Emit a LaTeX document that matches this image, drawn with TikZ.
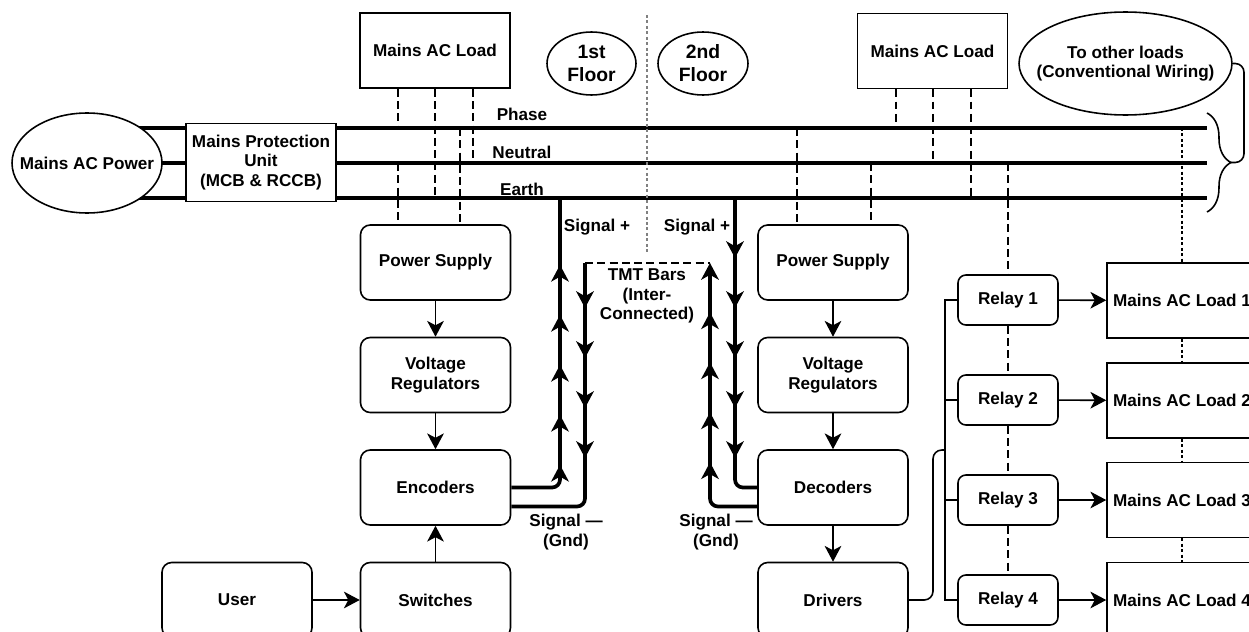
\documentclass[tikz,border=0pt]{standalone}
\usepackage{fontspec}
\setmainfont{Liberation Sans}
\usepackage{tikz}
\usetikzlibrary{arrows.meta, shapes.geometric, decorations.pathreplacing, decorations.markings}

\begin{document}
\begin{tikzpicture}[>={Stealth[length=9pt, width=9.5pt, inset=2.5pt]}, x=0.02cm, y=-0.02cm,
    font=\fontsize{9.75}{11}\selectfont\bfseries,
    sigtip/.tip={Stealth[length=9.5pt, width=10pt, inset=2.8pt]},
    blk/.style={draw, line width=0.9pt, rounded corners=5.5pt, fill=white, minimum width=3cm, minimum height=1.5cm, align=center},
    relay/.style={draw, line width=0.9pt, rounded corners=4.5pt, fill=white, minimum width=2cm, minimum height=1cm},
    load/.style={draw, line width=0.9pt, fill=white, minimum width=3cm, minimum height=1.5cm, align=center},
    oval/.style={draw, ellipse, line width=0.9pt, fill=white, align=center, inner sep=0pt},
    bus/.style={line width=2.8pt},
    sig/.style={line width=2.1pt, rounded corners=4.5pt},
    dsh/.style={line width=1.1pt, dash pattern=on 4.5pt off 2.5pt},
    dot/.style={line width=0.6pt, dash pattern=on 1.7pt off 1.4pt},
    arr/.style={line width=0.9pt, ->},
    ups/.style 2 args={postaction={decorate, decoration={markings, mark=between positions #1 and #2 step 1cm with {\arrow{sigtip}}}}}]
    \useasboundingbox (0,0) rectangle (1249,632);
    \clip (0,0) rectangle (1249,632);

    % Đường dây chính
    \coordinate (ph0) at (135,128);
    \coordinate (ph1) at (1207,128);
    \coordinate (ne0) at (150,163);
    \coordinate (ne1) at (1207,163);
    \coordinate (ea0) at (135,198);
    \coordinate (ea1) at (1207,198);
    \draw[bus] (ph0) -- (ph1);
    \draw[bus] (ne0) -- (ne1);
    \draw[bus] (ea0) -- (ea1);

    % Ranh giới hai tầng
    \coordinate (dv0) at (647,15);
    \coordinate (dv1) at (647,252);
    \draw[dot, gray] (dv0) -- (dv1);

    % Các khối
    \node[oval, minimum width=3cm, minimum height=2cm, inner xsep=-0.35cm] (ac) at (87,163) {Mains AC Power};
    \node[load, minimum width=2.96cm, minimum height=1.56cm] (mpu) at (261,162.5) {Mains Protection\\Unit\\(MCB \& RCCB)};
    \node[load] (ldL) at (435,50.5) {Mains AC Load};
    \node[load] (ldR) at (932.5,51) {Mains AC Load};
    \node[oval, minimum width=1.78cm, minimum height=1.26cm, font=\fontsize{11}{13}\selectfont\bfseries] (fl1) at (591.5,63.5) {1st\\Floor};
    \node[oval, minimum width=1.8cm, minimum height=1.26cm, font=\fontsize{11}{13}\selectfont\bfseries] (fl2) at (703,63.5) {2nd\\Floor};
    \node[oval, minimum width=4.26cm, minimum height=2.06cm, inner xsep=-0.35cm] (oth) at (1125.5,63.5) {To other loads\\(Conventional Wiring)};

    \node (lph) at (522,114) {Phase};
    \node (lne) at (522,152) {Neutral};
    \node (lea) at (522,189) {Earth};

    \node[blk] (ps1) at (435.5,262.5) {Power Supply};
    \node[blk] (vr1) at (435.5,375) {Voltage\\Regulators};
    \node[blk] (enc) at (435.5,487.5) {Encoders};
    \node[blk] (sw) at (435.5,600) {Switches};
    \node[blk] (usr) at (237,600) {User};

    \node[blk] (ps2) at (833,262.5) {Power Supply};
    \node[blk] (vr2) at (833,375) {Voltage\\Regulators};
    \node[blk] (dec) at (833,487.5) {Decoders};
    \node[blk] (drv) at (833,600) {Drivers};

    \node[relay] (r1) at (1008,300) {Relay 1};
    \node[relay] (r2) at (1008,400) {Relay 2};
    \node[relay] (r3) at (1008,500) {Relay 3};
    \node[relay] (r4) at (1008,600) {Relay 4};
    \node[load] (ld1) at (1182,300.5) {Mains AC Load 1};
    \node[load] (ld2) at (1182,400.5) {Mains AC Load 2};
    \node[load] (ld3) at (1182,500) {Mains AC Load 3};
    \node[load] (ld4) at (1182,600) {Mains AC Load 4};

    % Ngoặc nhọn về các tải khác
    \coordinate (br0) at (1207,113);
    \coordinate (br1) at (1207,212);
    \coordinate (btip) at (1231,162.5);
    \coordinate (bk) at (1244,63.5);
    \draw[line width=0.9pt, decorate, decoration={brace, amplitude=0.48cm}] (br0) -- (br1);
    \draw[line width=0.9pt, rounded corners=5pt] (oth.east) -- (bk) |- (btip);

    % Điểm rẽ nhánh
    \coordinate (tA) at (398,128);
    \coordinate (tB) at (435,198);
    \coordinate (tC) at (473,163);
    \coordinate (tD) at (398,163);
    \coordinate (tE) at (460,128);
    \coordinate (tF) at (896,128);
    \coordinate (tG) at (933,163);
    \coordinate (tH) at (971,198);
    \coordinate (tI) at (797,128);
    \coordinate (tJ) at (871,163);
    \coordinate (tK) at (1008,163);
    \coordinate (tL) at (1182,128);

    \draw[dsh] (ldL.south -| tA) -- (tA);
    \draw[dsh] (ldL.south -| tB) -- (tB);
    \draw[dsh] (ldL.south -| tC) -- (tC);
    \draw[dsh] (tD) -- (tD |- ps1.north);
    \draw[dsh] (tE) -- (tE |- ps1.north);
    \draw[dsh] (ldR.south -| tF) -- (tF);
    \draw[dsh] (ldR.south -| tG) -- (tG);
    \draw[dsh] (ldR.south -| tH) -- (tH);
    \draw[dsh] (tI) -- (tI |- ps2.north);
    \draw[dsh] (tJ) -- (tJ |- ps2.north);
    \draw[dsh] (tK) -- (r1.north);
    \draw[dsh] (r1.south) -- (r2.north);
    \draw[dsh] (r2.south) -- (r3.north);
    \draw[dsh] (r3.south) -- (r4.north);
    \draw[dot] (tL) -- (ld1.north);
    \draw[dot] (ld1.south) -- (ld2.north);
    \draw[dot] (ld2.south) -- (ld3.north);
    \draw[dot] (ld3.south) -- (ld4.north);

    % Mũi tên giữa các khối
    \draw[arr] (ps1) -- (vr1);
    \draw[arr] (vr1) -- (enc);
    \draw[arr] (sw) -- (enc);
    \draw[arr] (usr) -- (sw);
    \draw[arr] (ps2) -- (vr2);
    \draw[arr] (vr2) -- (dec);
    \draw[arr] (dec) -- (drv);
    \draw[arr] (r1) -- (ld1);
    \draw[arr] (r2) -- (ld2);
    \draw[arr] (r3) -- (ld3);
    \draw[arr] (r4) -- (ld4);

    % Trình điều khiển tới rơ-le
    \coordinate (jg1) at (933,450);
    \coordinate (jg2) at (945,450);
    \coordinate (bst) at (945,300);
    \coordinate (bsb) at (945,600);
    \draw[line width=0.9pt, rounded corners=5pt] (drv.east) -| (jg1) -- (jg2);
    \draw[line width=0.9pt] (r1.west) -- (bst) -- (bsb) -- (r4.west);
    \draw[line width=0.9pt] (r2.west) -- (r2.west -| bst);
    \draw[line width=0.9pt] (r3.west) -- (r3.west -| bst);

    % Tín hiệu qua thanh thép
    \coordinate (sgA) at (560,198);
    \coordinate (tmtL) at (585,263);
    \coordinate (tmtR) at (710,263);
    \coordinate (sgB) at (735,198);
    \draw[sig, ups={1.36cm}{5.4cm}] (enc.east) -| (sgA);
    \draw[sig, ups={0.9cm}{3.95cm}] (tmtL) |- ([yshift=-10.8pt]enc.east);
    \draw[sig, -sigtip, ups={1.76cm}{4.8cm}] ([yshift=-10.8pt]dec.west) -| (tmtR);
    \draw[sig, ups={1.2cm}{5.25cm}] (sgB) |- (dec.west);
    \draw[dsh] (tmtL) -- (tmtR);

    \node (sp1) at (597,227) {Signal +};
    \node (sp2) at (697,227) {Signal +};
    \node[align=center] (tmt) at (647,296) {TMT Bars\\(Inter-\\Connected)};
    \node[align=center] (sg1) at (566,532) {Signal —\\(Gnd)};
    \node[align=center] (sg2) at (716,532) {Signal —\\(Gnd)};
\end{tikzpicture}
\end{document}
